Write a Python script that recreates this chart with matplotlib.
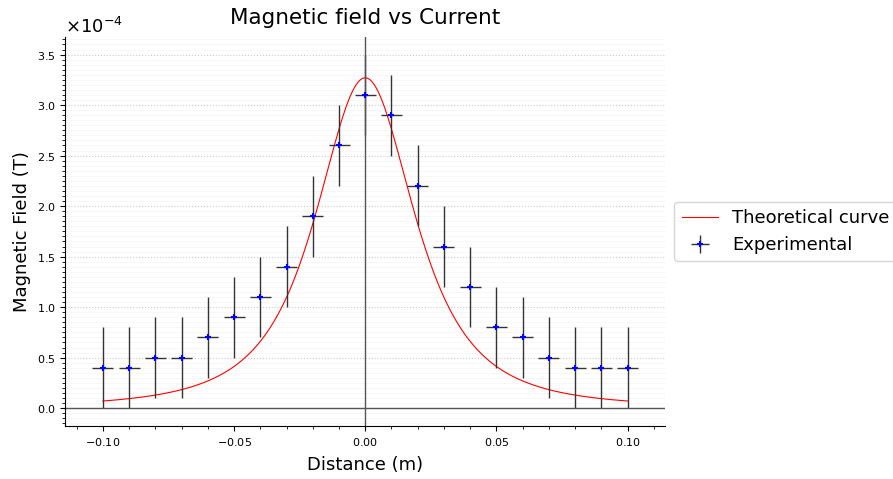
import numpy as np
from matplotlib import pyplot as plt
from matplotlib.ticker import MultipleLocator


# Measured field along the coil axis
distance = [-0.10, -0.09, -0.08, -0.07, -0.06, -0.05, -0.04, -0.03, -0.02, -0.01, 0.00,
            0.01, 0.02, 0.03, 0.04, 0.05, 0.06, 0.07, 0.08, 0.09, 0.10]
field = [0.4e-4, 0.4e-4, 0.5e-4, 0.5e-4, 0.7e-4, 0.9e-4, 1.1e-4, 1.4e-4, 1.9e-4, 2.6e-4, 3.1e-4,
         2.9e-4, 2.2e-4, 1.6e-4, 1.2e-4, 0.8e-4, 0.7e-4, 0.5e-4, 0.4e-4, 0.4e-4, 0.4e-4]
distance_err = 0.004
field_err = 0.4e-4

# Theoretical curve parameters (single loop on-axis field)
B_center = 3.27e-4
R_coil = 0.029


def loop_field(x):
    return B_center / (1 + (x / R_coil) ** 2) ** 1.5


def main():
    plt.rcParams['axes.formatter.use_mathtext'] = True
    fig, ax = plt.subplots(figsize=(8.93, 4.79), dpi=100)
    fig.subplots_adjust(left=0.073, right=0.745, top=0.923, bottom=0.111)

    xs = np.linspace(-0.10, 0.10, 500)
    ax.plot(xs, loop_field(xs), color='red', lw=0.8, label='Theoretical curve')
    ax.errorbar(distance, field, xerr=distance_err, yerr=field_err, fmt='b+',
                ms=5, mew=1.5, ecolor='#333333', elinewidth=1, label='Experimental')

    ax.axvline(0, color='#555555', lw=1)
    ax.axhline(0, color='#555555', lw=1)

    ax.spines['top'].set_visible(False)
    ax.spines['right'].set_visible(False)
    ax.xaxis.set_major_locator(MultipleLocator(0.05))
    ax.xaxis.set_minor_locator(MultipleLocator(0.01))
    ax.yaxis.set_major_locator(MultipleLocator(0.5e-4))
    ax.yaxis.set_minor_locator(MultipleLocator(0.05e-4))
    ax.ticklabel_format(axis='y', style='sci', scilimits=(0, 0))
    ax.tick_params(labelsize=8)
    ax.yaxis.get_offset_text().set_fontsize(13)

    ax.grid(axis='y', which='major', color='#cccccc', ls=':', lw=0.8)
    ax.grid(axis='y', which='minor', color='#f4f4f4', ls='-', lw=0.5)
    ax.set_axisbelow(True)

    ax.set_title('Magnetic field vs Current', fontsize=15.5, pad=9)
    ax.set_xlabel('Distance (m)', fontsize=13, labelpad=6)
    ax.set_ylabel('Magnetic Field (T)', fontsize=13)
    ax.legend(loc='center left', bbox_to_anchor=(1.0, 0.5), fontsize=13)

    fig.savefig('out.png')


if __name__ == '__main__':
    main()
